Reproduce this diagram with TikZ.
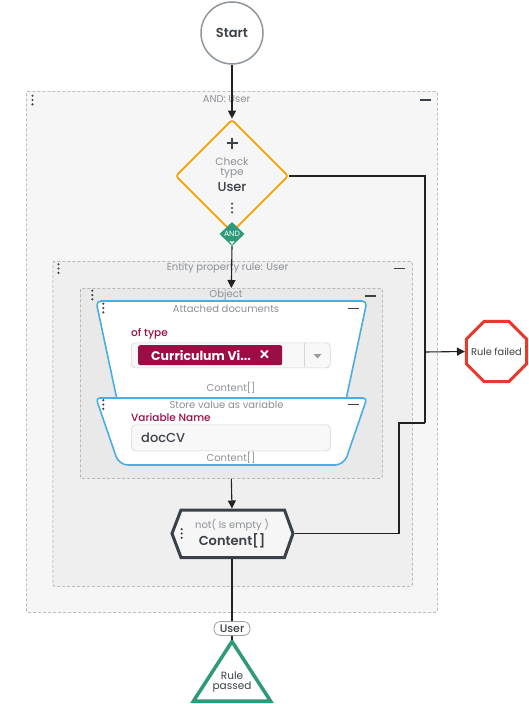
\documentclass[tikz,border=0pt]{standalone}
\usepackage{fontspec}
\setmainfont{Poppins}
\newfontfamily\pmed{Poppins Medium}
\newfontfamily\psemi{Poppins SemiBold}
\usetikzlibrary{shapes.geometric,arrows.meta}
\newcommand{\fsz}[1]{\fontsize{#1}{#1}\selectfont}
\definecolor{cgray}{HTML}{8C9196}
\definecolor{cdark}{HTML}{3B4148}
\definecolor{corange}{HTML}{F5A300}
\definecolor{cgreen}{HTML}{2E9A7A}
\definecolor{cblue}{HTML}{4AAEE3}
\definecolor{ccrim}{HTML}{9B0D45}
\definecolor{cred}{HTML}{E53B2E}
\definecolor{cbord}{HTML}{9E9E9E}
\definecolor{fillA}{HTML}{F6F6F6}
\definecolor{fillB}{HTML}{EFEFEF}
\definecolor{fillC}{HTML}{E9E9E9}
\definecolor{cline}{HTML}{222222}
\definecolor{cstart}{HTML}{8F979C}
\definecolor{boxb}{HTML}{D6D6D6}
\definecolor{boxf}{HTML}{F8F8F8}
\begin{document}
\begin{tikzpicture}[x=1pt,y=-1pt,
  group/.style={draw=cbord, dash pattern=on 3pt off 2pt, line width=0.7pt, rounded corners=2pt, inner sep=0pt, anchor=north west},
  title/.style={text=cgray, font=\fsz{10}, inner sep=0pt},
  conn/.style={draw=cline, line width=1.1pt},
  arr/.style={conn, -{Triangle[length=8pt,width=8pt]}},
  lbl/.style={text=ccrim, font=\pmed\fsz{10.5}, inner sep=0pt, anchor=west},
  inbox/.style={draw=boxb, fill=boxf, rounded corners=4pt, inner sep=0pt, anchor=north west, line width=0.7pt},
  kebab/.pic={\fill[cdark] (0,-4.3) circle[radius=1.2pt] (0,0) circle[radius=1.2pt] (0,4.3) circle[radius=1.2pt];},
  collapse/.pic={\draw[cdark, line width=1.7pt] (-5.5,0) -- (5.5,0);}
]
\useasboundingbox (0,0) rectangle (529,704);

% groups
\node[group, fill=fillA, minimum width=411pt, minimum height=521pt] (andgrp) at (26,91) {};
\node[title] (andt) at (226.6,99) {AND: User};
\pic at (32.5,100) {kebab};
\pic at (425.5,100) {collapse};

\node[group, fill=fillB, minimum width=359.5pt, minimum height=325pt] (ent) at (52.5,261) {};
\node[title] (entt) at (227.5,267.5) {Entity property rule: User};
\pic at (58.5,268.5) {kebab};
\pic at (399.5,268.5) {collapse};

\node[group, fill=fillC, minimum width=302pt, minimum height=190pt] (obj) at (80,288) {};
\node[title] (objt) at (226,294.5) {Object};
\pic at (92.3,295) {kebab};
\pic at (370.7,296) {collapse};

% attached documents
\draw[cblue, line width=1.6pt, fill=white, rounded corners=5pt] (96,301) -- (367,301) -- (345.5,402) -- (117.5,402) -- cycle;
\node[title] (attt) at (226,308.5) {Attached documents};
\pic at (103.3,308) {kebab};
\pic at (353,308.5) {collapse};
\node[lbl] (oftype) at (131,334) {of type};
\node[inbox, minimum width=199pt, minimum height=25pt] (sel) at (131,342.5) {};
\draw[boxb, line width=0.7pt] (304,343) -- (304,367);
\fill[cgray!90] (313.5,354) -- (321.5,354) -- (317.5,358.5) -- cycle;
\node[fill=ccrim, rounded corners=2pt, minimum width=144pt, minimum height=20pt, inner sep=0pt, anchor=north west] (tag) at (138,345) {};
\node[anchor=west, text=white, font=\bfseries\fsz{12.5}, inner sep=0pt] (tagt) at (151,355.5) {Curriculum Vi...};
\node[text=white, font=\pmed\fsz{19}, inner sep=0pt] (tagx) at (264.5,355.5) {×};
\node[title] (cont1) at (231,388) {Content[]};

% store value
\draw[cblue, line width=1.6pt, fill=white, rounded corners=4pt] (96,398) -- (367,398) [rounded corners=9pt] -- (344,465) -- (119,465) [rounded corners=4pt] -- cycle;
\node[title] (stt) at (226.5,404.5) {Store value as variable};
\pic at (103.3,404.5) {kebab};
\pic at (353,404.5) {collapse};
\node[lbl] (varn) at (131,417) {Variable Name};
\node[inbox, minimum width=199pt, minimum height=26pt] (var) at (131,424.5) {};
\node[anchor=west, text=cdark, font=\pmed\fsz{13}, inner sep=0pt] (vart) at (141,437.5) {docCV};
\node[title] (cont2) at (231,457.5) {Content[]};

% hexagon
\draw[cdark, line width=3pt, fill=fillA, line join=miter] (172,533.5) -- (181,510) -- (284.5,510) -- (293,533.5) -- (284.5,557.5) -- (181,557.5) -- cycle;
\coordinate (hexN) at (232,508.5);
\coordinate (hexS) at (232,559);
\coordinate (hexE) at (294.5,533.5);
\node[title] (hext1) at (232,525) {not( Is empty )};
\node[text=cdark, font=\psemi\fsz{13}, inner sep=0pt] (hext2) at (232,540.5) {Content[]};
\pic at (181.7,533.5) {kebab};

% start
\node[circle, draw=cstart, line width=1.5pt, fill=white, minimum size=62pt, inner sep=0pt, text=cdark, font=\psemi\fsz{13}] (start) at (232,33) {Start};

% check type diamond
\node[diamond, draw=corange, line width=1.7pt, rounded corners=3pt, minimum width=113pt, minimum height=113pt, inner sep=0pt, fill=fillA] (check) at (232,176) {};
\draw[cdark, line width=1.3pt] (226.5,143) -- (237.5,143) (232,137.5) -- (232,148.5);
\node[title, align=center, font=\fsz{10.5}\linespread{1}\selectfont] (checkt) at (232,168) {Check\\[-0.5pt]type};
\node[text=cdark, font=\pmed\fsz{13}, inner sep=0pt] (checku) at (232,187.5) {User};
\pic at (232,208) {kebab};

% AND diamond
\node[diamond, fill=cgreen, minimum width=25pt, minimum height=24pt, inner sep=0pt] (and) at (232,234) {};
\node[text=white, font=\fsz{7.5}, inner sep=0pt] (andt2) at (232,233.5) {AND};
\fill[white] (229.3,241.3) -- (234.7,241.3) -- (232,244.3) -- cycle;

% rule failed
\node[regular polygon, regular polygon sides=8, draw=cred, line width=3pt, fill=white, minimum size=65pt, inner sep=0pt] (fail) at (496.5,351.5) {};
\node[text=cdark, font=\fsz{9.8}, inner sep=0pt] (failt) at (496.5,352) {Rule failed};

% rule passed
\draw[cgreen, line width=3.5pt, fill=white, line join=miter] (232,641.5) -- (270.5,701) -- (193.5,701) -- cycle;
\coordinate (passA) at (232,640);
\node[text=cdark, font=\fsz{10.5}, align=center, inner sep=0pt] (pass) at (232,681.5) {Rule\\[-0.5pt]passed};

% junctions
\coordinate (jA) at (425,176);
\coordinate (jB) at (425,423);
\coordinate (jC) at (399,423);
\coordinate (jF) at (425,352);

% connectors
\draw[arr] (start) -- (check);
\draw[arr] (and.south) -- (obj.north);
\draw[arr] (obj.south) -- (hexN);
\draw[conn] (check.east) -- (jA) -- (jB);
\draw[arr] (jF) -- (fail.west);
\draw[conn] (hexE) -| (jC) -- (jB);
\draw[conn] (hexS) -- (passA);
\node[draw=cbord, fill=white, rounded corners=6.5pt, minimum width=36pt, minimum height=14pt, inner sep=0pt, text=cdark, font=\pmed\fsz{11}, line width=0.8pt] (ulbl) at (232,628.5) {User};
\end{tikzpicture}
\end{document}
